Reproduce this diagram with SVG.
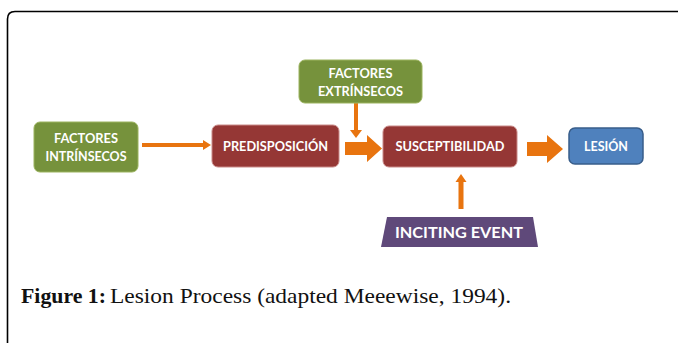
<svg xmlns="http://www.w3.org/2000/svg" width="678" height="343" viewBox="0 0 678 343">
<style>
.lbl{font-family:Lato,"Open Sans","Liberation Sans",sans-serif;font-weight:bold;fill:#ffffff;text-anchor:middle}
.green{fill:#76923c;stroke:#9bb35e;stroke-width:1}
.red{fill:#953735;stroke:#c98a88;stroke-width:1}
.arrow{fill:#e8740f}
.cap{font-family:"Liberation Serif","Times New Roman",serif;font-size:21px;fill:#111}
</style>
<rect x="0" y="0" width="678" height="343" fill="#ffffff"/>
<path d="M7.5,360 V19 Q7.5,11.5 15,11.5 H700" fill="none" stroke="#000" stroke-width="1.6"/>
<g id="connectors">
<polygon class="arrow" points="142,143 203,143 203,140 211,145 203,150 203,147 142,147"/>
<polygon class="arrow" points="354,103 358,103 358,130 362,130 356,138 350,130 354,130"/>
<polygon class="arrow" points="345,142 367,142 367,135 382,148.5 367,162 367,155 345,155"/>
<polygon class="arrow" points="527,142 547,142 547,135 563,149 547,163 547,156 527,156"/>
<polygon class="arrow" points="458.5,209 463.5,209 463.5,182 466.5,182 461,174 455.5,182 458.5,182"/>
</g>
<g id="node-intrinsecos">
<rect class="green" x="34" y="122" width="104" height="50" rx="6"/>
<text class="lbl" x="86" y="142.5" font-size="13" textLength="64" lengthAdjust="spacingAndGlyphs">FACTORES</text>
<text class="lbl" x="86" y="160.5" font-size="13" textLength="81" lengthAdjust="spacingAndGlyphs">INTRÍNSECOS</text>
</g>
<g id="node-extrinsecos">
<rect class="green" x="299" y="60" width="123" height="43" rx="6"/>
<text class="lbl" x="360.5" y="78" font-size="13" textLength="64" lengthAdjust="spacingAndGlyphs">FACTORES</text>
<text class="lbl" x="360.5" y="96" font-size="13" textLength="85" lengthAdjust="spacingAndGlyphs">EXTRÍNSECOS</text>
</g>
<g id="node-predisposicion">
<rect class="red" x="212" y="125" width="127" height="42" rx="6"/>
<text class="lbl" x="275.5" y="151" font-size="13" textLength="105" lengthAdjust="spacingAndGlyphs">PREDISPOSICIÓN</text>
</g>
<g id="node-susceptibilidad">
<rect class="red" x="383" y="126" width="134" height="41" rx="6"/>
<text class="lbl" x="450" y="151" font-size="13" textLength="109" lengthAdjust="spacingAndGlyphs">SUSCEPTIBILIDAD</text>
</g>
<g id="node-lesion">
<rect x="569" y="128" width="74" height="36" rx="6" fill="#4f81bd" stroke="#385d8a" stroke-width="1.5"/>
<text class="lbl" x="606" y="151" font-size="13" textLength="44" lengthAdjust="spacingAndGlyphs">LESIÓN</text>
</g>
<g id="node-inciting">
<polygon points="387,217 533,217 538,247 381,247" fill="#5f497a"/>
<text class="lbl" x="459" y="238" font-size="15.5" textLength="128" lengthAdjust="spacingAndGlyphs">INCITING EVENT</text>
</g>
<g id="caption">
<text class="cap" x="21" y="303" font-weight="bold" textLength="85" lengthAdjust="spacingAndGlyphs">Figure 1:</text>
<text class="cap" x="110" y="303" textLength="401" lengthAdjust="spacingAndGlyphs">Lesion Process (adapted Meeewise, 1994).</text>
</g>
</svg>
